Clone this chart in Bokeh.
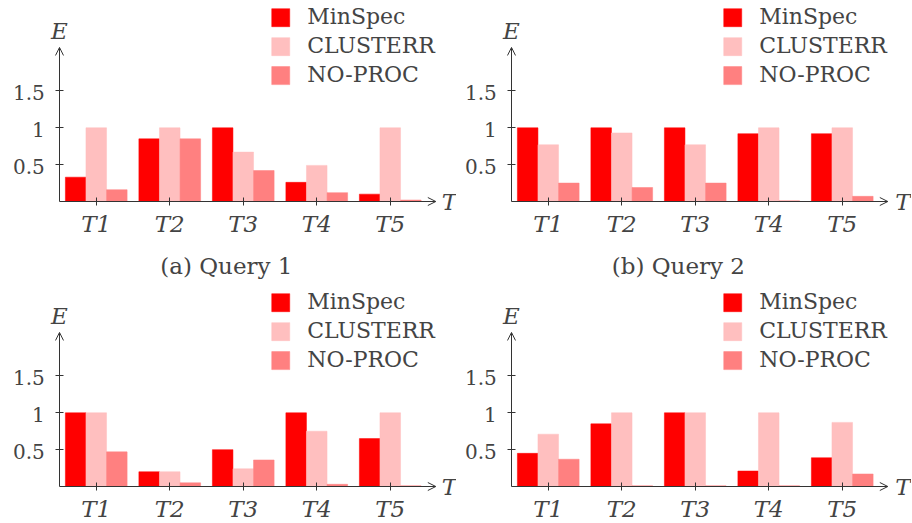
import numpy as np
from bokeh.plotting import figure
from bokeh.models import Range1d, FixedTicker, Label, Arrow, OpenHead, LinearAxis
from bokeh.layouts import gridplot
from bokeh.embed import file_html
from bokeh.resources import INLINE

categories = ["T1", "T2", "T3", "T4", "T5"]
series = ["MinSpec", "CLUSTERR", "NO-PROC"]
colors = ["#ff0000", "#ffbfbf", "#ff8080"]
y_ticks = [0.5, 1.0, 1.5]
y_tick_labels = ["0.5", "1", "1.5"]

a_minspec = [0.33, 0.85, 1.00, 0.26, 0.10]
a_clusterr = [1.00, 1.00, 0.67, 0.49, 1.00]
a_noproc = [0.16, 0.85, 0.42, 0.12, 0.02]

b_minspec = [1.00, 1.00, 1.00, 0.92, 0.92]
b_clusterr = [0.77, 0.93, 0.77, 1.00, 1.00]
b_noproc = [0.25, 0.19, 0.25, 0.01, 0.07]

c_minspec = [1.00, 0.20, 0.50, 1.00, 0.65]
c_clusterr = [1.00, 0.20, 0.24, 0.75, 1.00]
c_noproc = [0.47, 0.05, 0.36, 0.03, 0.01]

d_minspec = [0.45, 0.85, 1.00, 0.21, 0.39]
d_clusterr = [0.71, 1.00, 1.00, 1.00, 0.87]
d_noproc = [0.37, 0.01, 0.01, 0.01, 0.17]

captions = ["(a) Query 1", "(b) Query 2", "", ""]

FONT = "DejaVu Serif"
AX = "#333333"
UX, UY = 73.5, 73.7
BAR_W = 0.28
# legend placement (data units of each panel)
LEG_SW_X, LEG_TXT_X = 3.51, 3.87
LEG_Y0, LEG_DY = 2.494, 0.393


def make_panel(vals, caption, width, height, axis_x, zero_y, t_x):
    xs = np.arange(1, len(categories) + 1)
    x0 = 0.5 - axis_x / UX
    p = figure(width=width, height=height, min_border=0,
               x_range=Range1d(x0, x0 + width / UX),
               y_range=Range1d(-(height - zero_y) / UY, zero_y / UY),
               x_axis_type=None, y_axis_type=None,
               output_backend="svg", toolbar_location=None, outline_line_color=None)
    p.grid.visible = False

    # bars
    for k, (v, c) in enumerate(zip(vals, colors)):
        p.vbar(x=xs + (k - 1) * BAR_W, top=v, bottom=0, width=BAR_W,
               fill_color=c, line_color=c, line_width=0.5)

    # legend (swatches + labels)
    leg_y = [LEG_Y0 - k * LEG_DY for k in range(len(series))]
    p.rect(x=[LEG_SW_X] * len(series), y=leg_y, width=18, height=18,
           width_units="screen", height_units="screen",
           fill_color=colors, line_color=colors, line_width=0.5)
    for name, ly in zip(series, leg_y):
        p.add_layout(Label(x=LEG_TXT_X, y=ly + 0.01, text=name, text_font=FONT,
                           text_font_size="22px", text_align="left",
                           text_baseline="middle"))

    # axes: ticks only, labels drawn as serif text
    xa = LinearAxis(fixed_location=0, ticker=FixedTicker(ticks=list(xs)))
    ya = LinearAxis(fixed_location=0.5, ticker=FixedTicker(ticks=y_ticks))
    for ax in (xa, ya):
        ax.axis_line_color = None
        ax.major_tick_in = 4
        ax.major_tick_out = 4
        ax.major_tick_line_color = AX
        ax.minor_tick_line_color = None
        ax.major_label_text_color = None
    p.add_layout(xa, "below")
    p.add_layout(ya, "left")

    for xv, cat in zip(xs, categories):
        p.add_layout(Label(x=float(xv), y=-0.31, text=cat, text_font=FONT,
                           text_font_size="23px", text_font_style="italic",
                           text_align="center", text_baseline="middle"))
    for tv, tl in zip(y_ticks, y_tick_labels):
        p.add_layout(Label(x=0.30, y=tv - 0.02, text=tl, text_font=FONT,
                           text_font_size="20px", text_align="right",
                           text_baseline="middle"))

    # arrowed axis lines and axis names
    p.add_layout(Arrow(end=OpenHead(size=8, line_color=AX, line_width=1), x_start=0.5, y_start=0,
                       x_end=5.62, y_end=0, line_color=AX, line_width=1))
    p.add_layout(Arrow(end=OpenHead(size=8, line_color=AX, line_width=1), x_start=0.5, y_start=0,
                       x_end=0.5, y_end=2.09, line_color=AX, line_width=1))
    p.add_layout(Label(x=0.5, y=2.31, text="E", text_font=FONT, text_font_size="23px",
                       text_font_style="italic", text_align="center", text_baseline="middle"))
    p.add_layout(Label(x=t_x, y=-0.01, text="T", text_font=FONT, text_font_size="23px",
                       text_font_style="italic", text_align="left", text_baseline="middle"))
    if caption:
        p.add_layout(Label(x=2.77, y=-0.88, text=caption, text_font=FONT, text_font_size="23px",
                           text_align="center", text_baseline="middle"))
    return p


pa = make_panel([a_minspec, a_clusterr, a_noproc], captions[0], 456, 284, 59, 201, 5.70)
pb = make_panel([b_minspec, b_clusterr, b_noproc], captions[1], 455, 284, 55, 201, 5.72)
pc = make_panel([c_minspec, c_clusterr, c_noproc], captions[2], 456, 238, 59, 202, 5.70)
pd = make_panel([d_minspec, d_clusterr, d_noproc], captions[3], 455, 238, 55, 202, 5.72)

grid = gridplot([[pa, pb], [pc, pd]], toolbar_location=None)
open("out.html", "w").write(file_html(grid, INLINE))
